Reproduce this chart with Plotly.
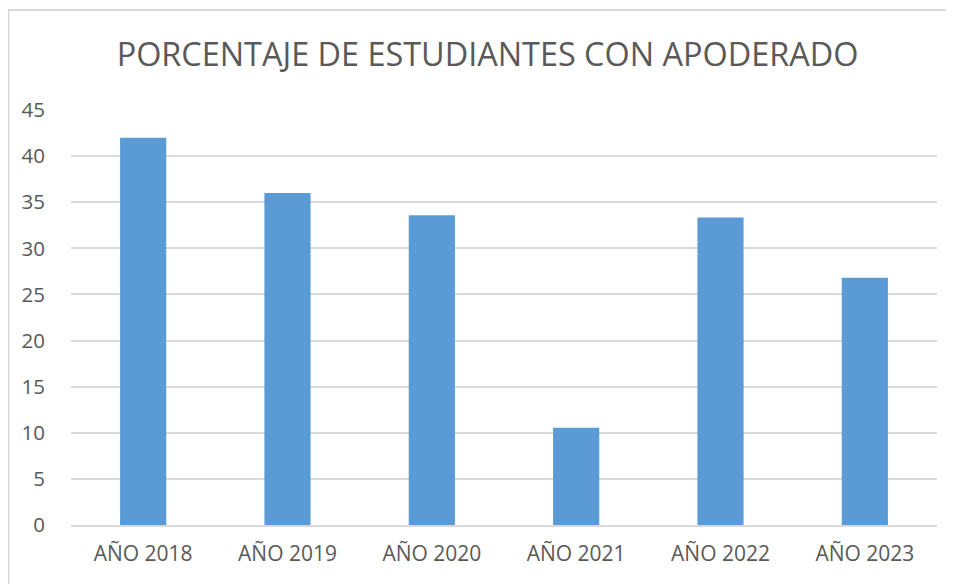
import plotly.graph_objects as go

categories = ["AÑO 2018", "AÑO 2019", "AÑO 2020", "AÑO 2021", "AÑO 2022", "AÑO 2023"]
values = [42.0, 36.0, 33.6, 10.55, 33.35, 26.8]
y_ticks = [0, 5, 10, 15, 20, 25, 30, 35, 40, 45]
title_text = "PORCENTAJE DE ESTUDIANTES CON APODERADO"

# page body has an 8px margin; compensate
W, H = 946, 576
L, R, T, B = 63, 17, 102, 59
PW, PH = W - L - R, H - T - B

fig = go.Figure(go.Bar(
    x=categories, y=values,
    marker=dict(color="#5B9BD5", line=dict(width=0)),
))

fig.update_layout(
    width=W, height=H,
    margin=dict(l=L, r=R, t=T, b=B, pad=0),
    paper_bgcolor="white", plot_bgcolor="white",
    bargap=0.68,
    showlegend=False,
    font=dict(family="Open Sans, sans-serif", color="#595959"),
    title=dict(text=title_text, x=479.5 / W, xanchor="center",
               y=1 - 47 / H, yanchor="middle", yref="container", xref="container",
               font=dict(size=32.4, color="#595959", family="Open Sans, sans-serif")),
    xaxis=dict(showgrid=False, showline=True, linecolor="#D9D9D9", linewidth=2,
               tickfont=dict(size=21, color="#595959"),
               ticks="outside", ticklen=9, tickcolor="rgba(0,0,0,0)"),
    yaxis=dict(range=[0, 45], tickvals=y_ticks, showgrid=True, gridcolor="#D9D9D9",
               gridwidth=2, zeroline=False, showline=False,
               tickfont=dict(size=20.5, color="#595959"),
               ticks="outside", ticklen=21, tickcolor="rgba(0,0,0,0)"),
)

# outer chart frame
fig.add_shape(type="rect", xref="paper", yref="paper",
              x0=(0.5 - L) / PW, x1=1 + (R + 20) / PW,
              y0=-(B + 20) / PH, y1=1 + (T - 2) / PH,
              line=dict(color="#D9D9D9", width=2), fillcolor="rgba(0,0,0,0)", layer="below")

fig.write_html("out.html")
